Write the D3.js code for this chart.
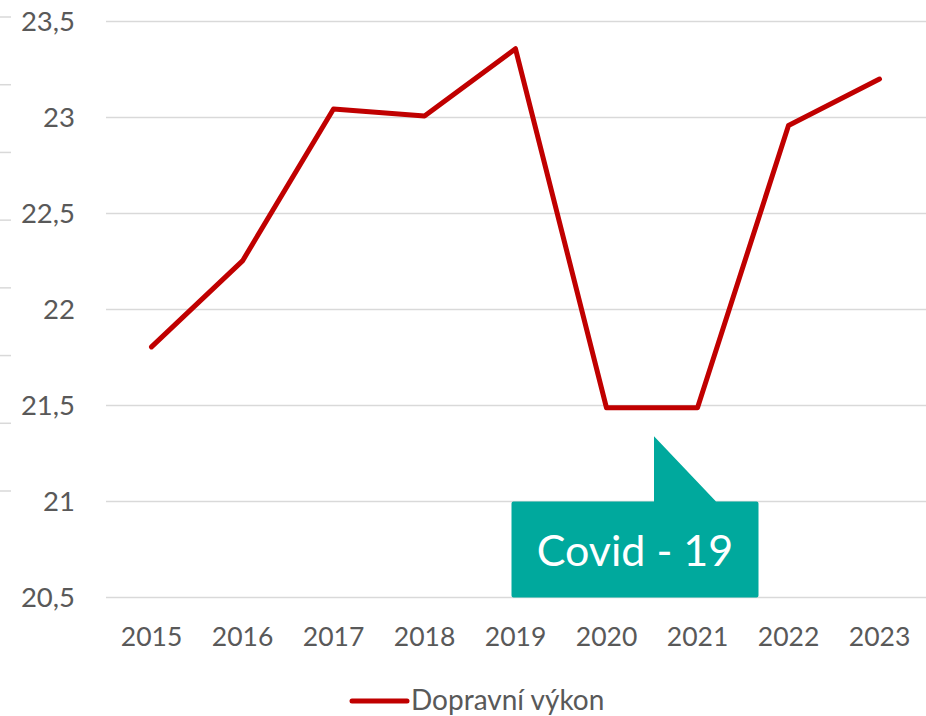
<!DOCTYPE html>
<html>
<head>
<meta charset="utf-8">
<script src="https://cdn.jsdelivr.net/npm/d3@7"></script>
<style>
  body { margin: 0; background: #fff; }
  text { font-family: Lato, "Open Sans", sans-serif; }
</style>
</head>
<body>
<div id="chart"></div>
<script>
const years = ["2015", "2016", "2017", "2018", "2019", "2020", "2021", "2022", "2023"];
const vykon = [21.805, 22.253, 23.044, 23.008, 23.358, 21.488, 21.488, 22.958, 23.2];
const yTicks = [20.5, 21, 21.5, 22, 22.5, 23, 23.5];
const seriesName = "Dopravní výkon";
const calloutText = "Covid - 19";

const W = 926, H = 716;
const margin = {top: 21.5, right: 1, bottom: 118.5, left: 106};
const width = W - margin.left - margin.right,
  height = H - margin.top - margin.bottom;

const svg = d3.select("#chart")
  .append("svg")
  .attr("width", W)
  .attr("height", H);

const g = svg.append("g")
  .attr("transform", `translate(${margin.left},${margin.top})`);

const x = d3.scaleBand()
  .domain(years)
  .range([0, width]);

const y = d3.scaleLinear()
  .domain([20.5, 23.5])
  .range([height, 0]);

// leftover tick marks of a hidden axis at the very left edge
const ghost = d3.scaleLinear().domain([0, 7]).range([491, 17]);
svg.append("g")
  .selectAll("line")
  .data(d3.range(8))
  .enter()
  .append("line")
  .attr("x1", 0)
  .attr("x2", 11)
  .attr("y1", d => ghost(d))
  .attr("y2", d => ghost(d))
  .attr("stroke", "#d9d9d9")
  .attr("stroke-width", 1.5);

// gridlines
g.append("g")
  .selectAll("line")
  .data(yTicks)
  .enter()
  .append("line")
  .attr("x1", 0)
  .attr("x2", width + margin.right)
  .attr("y1", d => y(d))
  .attr("y2", d => y(d))
  .attr("stroke", "#d9d9d9")
  .attr("stroke-width", 1.5);

// y axis labels
const yAxis = g.append("g")
  .call(d3.axisLeft(y)
    .tickValues(yTicks)
    .tickSize(0)
    .tickPadding(31)
    .tickFormat(d => String(d).replace(".", ",")));
yAxis.select(".domain").remove();
yAxis.selectAll("text")
  .attr("fill", "#595959")
  .style("font-size", "27.5px")
  .attr("font-family", null);

// x axis labels
const xAxis = g.append("g")
  .attr("transform", `translate(0,${height})`)
  .call(d3.axisBottom(x).tickSize(0).tickPadding(30));
xAxis.select(".domain").remove();
xAxis.selectAll("text")
  .attr("fill", "#595959")
  .style("font-size", "26.5px")
  .attr("font-family", null);

// line
const line = d3.line()
  .x((d, i) => x(years[i]) + x.bandwidth() / 2)
  .y(d => y(d));

g.append("path")
  .datum(vykon)
  .attr("fill", "none")
  .attr("stroke", "#c00000")
  .attr("stroke-width", 5)
  .attr("stroke-linejoin", "round")
  .attr("stroke-linecap", "round")
  .attr("d", line);

// callout
const cx = d => x(d) + x.bandwidth() / 2;
const rx0 = cx("2019") - 4, rx1 = cx("2022") - 30;
const ry0 = y(21), ry1 = y(20.5);
const tipX = (cx("2020") + cx("2021")) / 2 + 2, tipY = y(21.34);
const r = 2;
const path = d3.path();
path.moveTo(rx0 + r, ry0);
path.lineTo(tipX, ry0);
path.lineTo(tipX, tipY);
path.lineTo(tipX + 62, ry0);
path.lineTo(rx1 - r, ry0);
path.quadraticCurveTo(rx1, ry0, rx1, ry0 + r);
path.lineTo(rx1, ry1 - r);
path.quadraticCurveTo(rx1, ry1, rx1 - r, ry1);
path.lineTo(rx0 + r, ry1);
path.quadraticCurveTo(rx0, ry1, rx0, ry1 - r);
path.lineTo(rx0, ry0 + r);
path.quadraticCurveTo(rx0, ry0, rx0 + r, ry0);
path.closePath();

g.append("path")
  .attr("d", path.toString())
  .attr("fill", "#00a99d");

g.append("text")
  .attr("x", (rx0 + rx1) / 2)
  .attr("y", ry0 + 64)
  .attr("text-anchor", "middle")
  .attr("fill", "#ffffff")
  .style("font-size", "43px")
  .text(calloutText);

// legend
const legend = svg.append("g")
  .attr("transform", "translate(352,701)");
legend.append("line")
  .attr("x1", 0)
  .attr("x2", 55)
  .attr("stroke", "#c00000")
  .attr("stroke-width", 5)
  .attr("stroke-linecap", "round");
legend.append("text")
  .attr("x", 59)
  .attr("y", 9)
  .attr("fill", "#595959")
  .style("font-size", "28px")
  .text(seriesName);
</script>
</body>
</html>
